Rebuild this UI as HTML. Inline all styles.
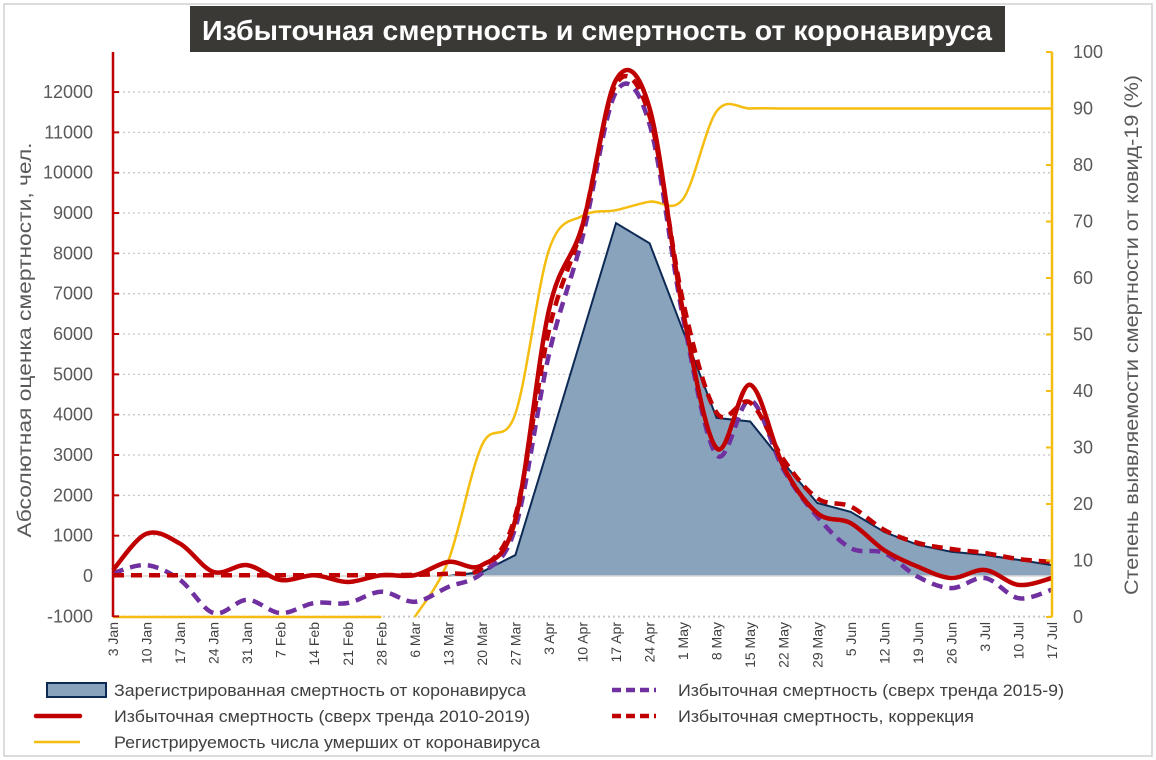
<!DOCTYPE html>
<html><head><meta charset="utf-8"><style>
html,body{margin:0;padding:0;background:#fff;}
svg{display:block;font-family:"Liberation Sans",sans-serif;}
</style></head><body>
<svg id="s" width="1156" height="760" viewBox="0 0 1156 760" xmlns="http://www.w3.org/2000/svg">
<rect x="0" y="0" width="1156" height="760" fill="#fff"/>
<rect x="4" y="4" width="1148" height="752" fill="none" stroke="#d0d0d0" stroke-width="1.5"/>
<g id="grid"></g>
<g id="series"></g>
<rect x="190" y="6" width="815" height="46" fill="#3a3936"/>
<text x="597" y="40" text-anchor="middle" fill="#fff" font-weight="bold" font-size="28" textLength="790" lengthAdjust="spacingAndGlyphs">Избыточная смертность и смертность от коронавируса</text>
<g id="axes"></g>
<text transform="translate(31,340) rotate(-90)" text-anchor="middle" font-size="19" fill="#595959" textLength="395" lengthAdjust="spacingAndGlyphs">Абсолютная оценка смертности, чел.</text>
<text transform="translate(1138,335) rotate(-90)" text-anchor="middle" font-size="19" fill="#595959" textLength="520" lengthAdjust="spacingAndGlyphs">Степень выявляемости смертности от ковид-19 (%)</text>
<g font-size="17" fill="#404040">
<rect x="47" y="683" width="59" height="14" fill="#8aa3bd" stroke="#0d2a55" stroke-width="2"/>
<text x="114" y="696" textLength="412" lengthAdjust="spacingAndGlyphs">Зарегистрированная смертность от коронавируса</text>
<line x1="36" y1="716" x2="80" y2="716" stroke="#c00000" stroke-width="4.5" stroke-linecap="round"/>
<text x="114" y="722" textLength="416" lengthAdjust="spacingAndGlyphs">Избыточная смертность (сверх тренда 2010-2019)</text>
<line x1="34" y1="742" x2="80" y2="742" stroke="#f5bd0f" stroke-width="2.5"/>
<text x="114" y="748" textLength="426" lengthAdjust="spacingAndGlyphs">Регистрируемость числа умерших от коронавируса</text>
<line x1="612" y1="690" x2="656" y2="690" stroke="#7030a0" stroke-width="4.5" stroke-dasharray="9,5"/>
<text x="678" y="696" textLength="386" lengthAdjust="spacingAndGlyphs">Избыточная смертность (сверх тренда 2015-9)</text>
<line x1="612" y1="716" x2="656" y2="716" stroke="#c00000" stroke-width="4.5" stroke-dasharray="9,5"/>
<text x="678" y="722" textLength="296" lengthAdjust="spacingAndGlyphs">Избыточная смертность, коррекция</text>
</g>
</svg>
<script>
var NS="http://www.w3.org/2000/svg";
function el(p,t,a,txt){var e=document.createElementNS(NS,t);for(var k in a)e.setAttribute(k,a[k]);if(txt!=null)e.textContent=txt;p.appendChild(e);return e;}
var X0=113,DX=33.536;
function X(i){return X0+i*DX;}
function YL(v){return 576-v*0.04033;}
function YR(p){return 617-p*5.65;}
var grid=document.getElementById('grid'),axes=document.getElementById('axes'),ser=document.getElementById('series');
for(var v=-1000;v<=12000;v+=1000){
  if(v!=0)el(grid,'line',{x1:X0,x2:1052,y1:YL(v),y2:YL(v),stroke:'#c8c8c8','stroke-width':1.3,'stroke-dasharray':'2,3'});
  el(axes,'line',{x1:X0,x2:X0+6,y1:YL(v),y2:YL(v),stroke:'#c00000','stroke-width':2});
  el(axes,'text',{x:93,y:YL(v)+6,'text-anchor':'end','font-size':18,fill:'#595959'},String(v));
}
for(var p=0;p<=100;p+=10){
  el(axes,'line',{x1:1046,x2:1052,y1:YR(p),y2:YR(p),stroke:'#f5bd0f','stroke-width':2});
  el(axes,'text',{x:1073,y:YR(p)+6,'font-size':18,fill:'#595959'},String(p));
}
el(axes,'line',{x1:X0,x2:X0,y1:52,y2:617,stroke:'#c00000','stroke-width':2.5});
el(axes,'line',{x1:1052,x2:1052,y1:52,y2:617,stroke:'#f5bd0f','stroke-width':2.5});
var labs=["3 Jan","10 Jan","17 Jan","24 Jan","31 Jan","7 Feb","14 Feb","21 Feb","28 Feb","6 Mar","13 Mar","20 Mar","27 Mar","3 Apr","10 Apr","17 Apr","24 Apr","1 May","8 May","15 May","22 May","29 May","5 Jun","12 Jun","19 Jun","26 Jun","3 Jul","10 Jul","17 Jul"];
labs.forEach(function(l,i){el(axes,'text',{transform:'translate('+(X(i)+5)+',622) rotate(-90)','text-anchor':'end','font-size':14,fill:'#404040'},l);});
el(grid,'line',{x1:X0,x2:1052,y1:617,y2:617,stroke:'#c8c8c8','stroke-width':1.3,'stroke-dasharray':'2,3'});
function smooth(pts){
  var d='M'+pts[0][0].toFixed(1)+','+pts[0][1].toFixed(1);
  for(var i=0;i<pts.length-1;i++){
    var p0=pts[i-1]||pts[i],p1=pts[i],p2=pts[i+1],p3=pts[i+2]||pts[i+1];
    var c1=[p1[0]+(p2[0]-p0[0])/6,p1[1]+(p2[1]-p0[1])/6],c2=[p2[0]-(p3[0]-p1[0])/6,p2[1]-(p3[1]-p1[1])/6];
    d+='C'+c1[0].toFixed(1)+','+c1[1].toFixed(1)+' '+c2[0].toFixed(1)+','+c2[1].toFixed(1)+' '+p2[0].toFixed(1)+','+p2[1].toFixed(1);
  }
  return d;
}
var blue=[0,0,0,0,0,0,0,0,0,0,0,100,520,3250,6000,8750,8250,6080,3920,3830,2800,1810,1590,1090,770,600,520,400,270];
var red=[150,1050,800,100,270,-100,20,-150,20,20,350,270,1400,6600,8700,12300,11600,6550,3170,4740,2700,1560,1310,640,230,-50,150,-220,-50];
var redd=[20,20,20,20,20,20,20,20,20,30,60,200,1500,6100,8700,12200,11400,6800,4050,4300,2880,1930,1720,1140,820,670,570,420,350];
var pur=[70,270,-100,-920,-590,-920,-670,-670,-390,-640,-270,70,1200,5500,8400,12000,11200,6400,3000,4360,2630,1470,690,570,-20,-300,-50,-550,-340];
var yel=[null,null,null,null,null,null,null,null,null,0,10,30.4,36,65,71,72,73.5,74,89.5,90,90,90,90,90,90,90,90,90,90];
var d='M'+X(0)+','+YL(0);
blue.forEach(function(v,i){d+='L'+X(i).toFixed(1)+','+YL(v).toFixed(1);});
d+='L'+X(28)+','+YL(0)+'Z';
el(ser,'path',{d:d,fill:'#8aa3bd'});
var d2='M'+X(10)+','+YL(0);
for(var i=10;i<29;i++)d2+='L'+X(i).toFixed(1)+','+YL(blue[i]).toFixed(1);
d2+='L'+X(28)+','+YL(0);
el(ser,'path',{d:d2,fill:'none',stroke:'#0d2a55','stroke-width':2});
el(ser,'line',{x1:X0,x2:1052,y1:YL(0),y2:YL(0),stroke:'#d9d9d9','stroke-width':1.5});
el(ser,'line',{x1:X0,x2:X(8),y1:YR(0),y2:YR(0),stroke:'#f5bd0f','stroke-width':2.5});
var yp=[];for(var i=9;i<29;i++)yp.push([X(i),YR(yel[i])]);
el(ser,'path',{d:smooth(yp),fill:'none',stroke:'#f5bd0f','stroke-width':2.5});
function pts(a){return a.map(function(v,i){return [X(i),YL(v)];});}
el(ser,'path',{d:smooth(pts(pur)),fill:'none',stroke:'#7030a0','stroke-width':4.5,'stroke-dasharray':'11,7'});
el(ser,'path',{d:smooth(pts(red)),fill:'none',stroke:'#c00000','stroke-width':4.5});
el(ser,'path',{d:smooth(pts(redd)),fill:'none',stroke:'#c00000','stroke-width':4.5,'stroke-dasharray':'11,7'});
</script>
</body></html>
